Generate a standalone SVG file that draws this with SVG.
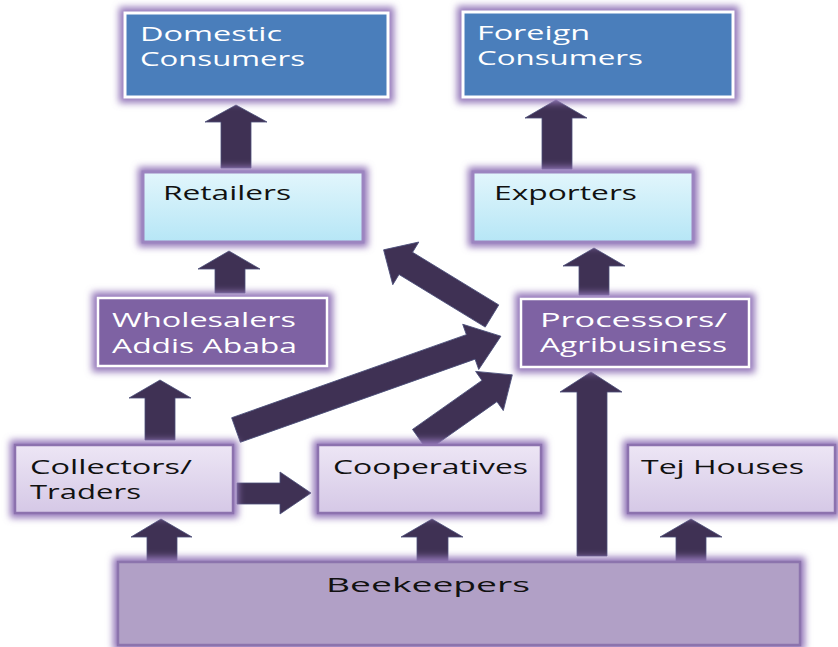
<svg xmlns="http://www.w3.org/2000/svg" width="838" height="647" viewBox="0 0 838 647">
  <defs>
    <filter id="glow" x="-20%" y="-30%" width="140%" height="160%">
      <feGaussianBlur stdDeviation="3.5"/>
    </filter>
    <linearGradient id="cyanFill" x1="0" y1="0" x2="0" y2="1">
      <stop offset="0" stop-color="#E2F6FC"/>
      <stop offset="1" stop-color="#B6E6F6"/>
    </linearGradient>
    <linearGradient id="lilacFill" x1="0" y1="0" x2="0" y2="1">
      <stop offset="0" stop-color="#EDE6F5"/>
      <stop offset="1" stop-color="#D5C8E6"/>
    </linearGradient>
    <style>
      .halo { fill: #9478BA; filter: url(#glow); }
      .blue { fill: #4A7EBB; stroke: #FFFFFF; stroke-width: 3; }
      .cyan { fill: url(#cyanFill); stroke: #9C85C0; stroke-width: 3; }
      .plum { fill: #7E62A3; stroke: #FFFFFF; stroke-width: 2.5; }
      .lilac { fill: url(#lilacFill); stroke: #8C72AE; stroke-width: 2.5; }
      .base { fill: #B1A0C6; stroke: #8C74AD; stroke-width: 2.5; }
      .arrow { fill: #3F3154; stroke: #4B4F7A; stroke-width: 0.8; }
      text { font-family: "Open Sans", "DejaVu Sans", sans-serif; font-size: 20px; }
      .light { fill: #FFFFFF; }
      .dark { fill: #111111; }
    </style>
  </defs>

  <rect width="838" height="647" fill="#FFFFFF"/>

  <!-- connectors -->
  <g id="connectors">
    <!-- vertical arrows -->
    <polygon class="arrow" points="221,168 221,122 205,122 236,105 267,122 251,122 251,168"/>
    <polygon class="arrow" points="542,169 542,118 525,118 556,100 587,118 572,118 572,169"/>
    <polygon class="arrow" points="215,293 215,269 198,269 229,251 260,269 245,269 245,293"/>
    <polygon class="arrow" points="579,295 579,266 563,266 594,248 625,266 609,266 609,295"/>
    <polygon class="arrow" points="145,440 145,398 129,398 160,380 191,398 175,398 175,440"/>
    <polygon class="arrow" points="577,556 577,392 560,392 591,372 622,392 607,392 607,556"/>
    <polygon class="arrow" points="147,562 147,537 131,537 161,519 192,537 177,537 177,562"/>
    <polygon class="arrow" points="417,562 417,537 401,537 432,519 463,537 448,537 448,562"/>
    <polygon class="arrow" points="676,562 676,537 660,537 691,519 722,537 706,537 706,562"/>
    <!-- collectors to cooperatives -->
    <polygon class="arrow" points="237,483 280,483 280,472 311,493 280,514 280,504 237,504"/>
    <!-- diagonal arrows -->
    <polygon class="arrow" transform="translate(492,316) rotate(211.4)" points="0,-13 101,-13 101,-25 127,0 101,25 101,13 0,13"/>
    <polygon class="arrow" transform="translate(236,430) rotate(-19.5)" points="0,-13 249,-13 249,-24 281,0 249,24 249,13 0,13"/>
    <polygon class="arrow" transform="translate(420,440) rotate(-35.2)" points="0,-13 85,-13 85,-24 113,0 85,24 85,13 0,13"/>
  </g>

  <g id="domestic-consumers">
    <rect class="halo" x="119" y="7" width="275" height="96"/>
    <rect class="blue" x="125" y="13" width="263" height="84"/>
    <text class="light" x="140" y="41" textLength="142" lengthAdjust="spacingAndGlyphs">Domestic</text>
    <text class="light" x="140" y="66" textLength="165" lengthAdjust="spacingAndGlyphs">Consumers</text>
  </g>

  <g id="foreign-consumers">
    <rect class="halo" x="457" y="6" width="282" height="97"/>
    <rect class="blue" x="463" y="12" width="270" height="85"/>
    <text class="light" x="477" y="40" textLength="113" lengthAdjust="spacingAndGlyphs">Foreign</text>
    <text class="light" x="477" y="65" textLength="166" lengthAdjust="spacingAndGlyphs">Consumers</text>
  </g>

  <g id="retailers">
    <rect class="halo" x="138" y="167" width="230" height="80"/>
    <rect class="cyan" x="143" y="172" width="220" height="70"/>
    <text class="dark" x="163" y="200" textLength="128" lengthAdjust="spacingAndGlyphs">Retailers</text>
  </g>

  <g id="exporters">
    <rect class="halo" x="468" y="167" width="230" height="80"/>
    <rect class="cyan" x="473" y="172" width="220" height="70"/>
    <text class="dark" x="494" y="200" textLength="143" lengthAdjust="spacingAndGlyphs">Exporters</text>
  </g>

  <g id="wholesalers">
    <rect class="halo" x="92" y="292" width="241" height="80"/>
    <rect class="plum" x="98" y="298" width="229" height="68"/>
    <text class="light" x="112" y="327" textLength="184" lengthAdjust="spacingAndGlyphs">Wholesalers</text>
    <text class="light" x="112" y="353" textLength="185" lengthAdjust="spacingAndGlyphs">Addis Ababa</text>
  </g>

  <g id="processors">
    <rect class="halo" x="515" y="293" width="240" height="80"/>
    <rect class="plum" x="521" y="299" width="228" height="68"/>
    <text class="light" x="540" y="327" textLength="187" lengthAdjust="spacingAndGlyphs">Processors/</text>
    <text class="light" x="540" y="352" textLength="187" lengthAdjust="spacingAndGlyphs">Agribusiness</text>
  </g>

  <g id="collectors-traders">
    <rect class="halo" x="10" y="440" width="228" height="78"/>
    <rect class="lilac" x="15" y="445" width="218" height="68"/>
    <text class="dark" x="30" y="474" textLength="162" lengthAdjust="spacingAndGlyphs">Collectors/</text>
    <text class="dark" x="30" y="499" textLength="111" lengthAdjust="spacingAndGlyphs">Traders</text>
  </g>

  <g id="cooperatives">
    <rect class="halo" x="313" y="440" width="233" height="78"/>
    <rect class="lilac" x="318" y="445" width="223" height="68"/>
    <text class="dark" x="333" y="474" textLength="195" lengthAdjust="spacingAndGlyphs">Cooperatives</text>
  </g>

  <g id="tej-houses">
    <rect class="halo" x="623" y="440" width="217" height="78"/>
    <rect class="lilac" x="628" y="445" width="207" height="68"/>
    <text class="dark" x="641" y="474" textLength="163" lengthAdjust="spacingAndGlyphs">Tej Houses</text>
  </g>

  <g id="beekeepers">
    <rect class="halo" x="113" y="557" width="692" height="93"/>
    <rect class="base" x="118" y="562" width="682" height="83"/>
    <text class="dark" x="326" y="592" font-size="24" textLength="204" lengthAdjust="spacingAndGlyphs">Beekeepers</text>
  </g>
</svg>
